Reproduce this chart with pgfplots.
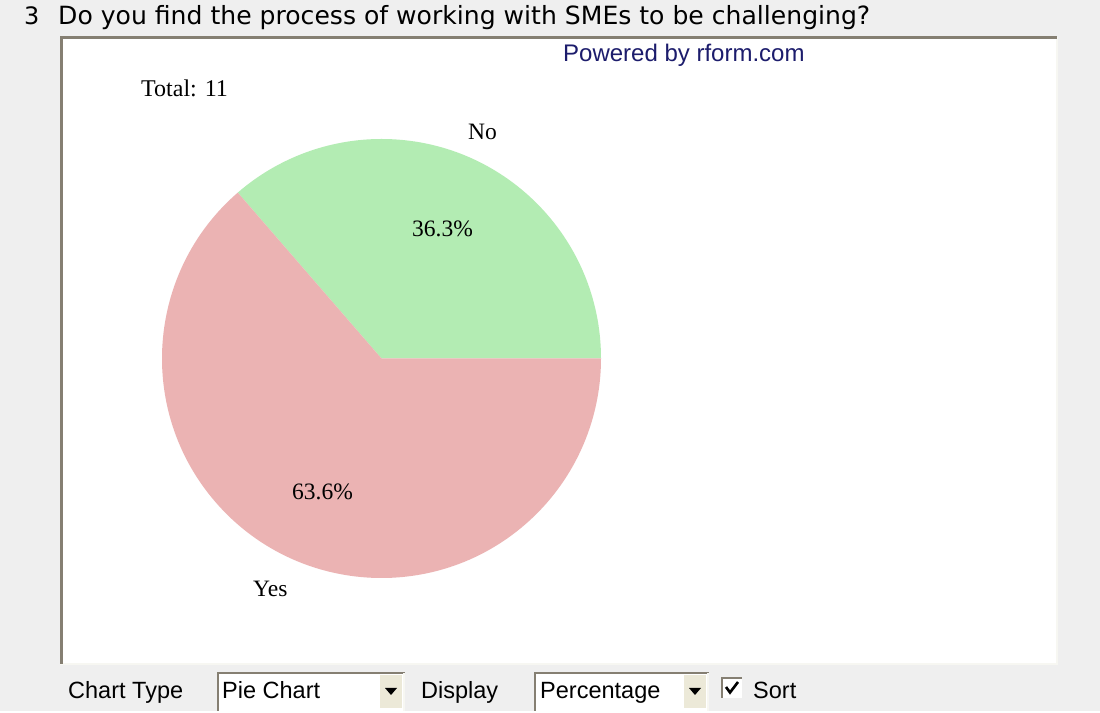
\documentclass[border=0pt]{standalone}
\usepackage{pgfplots}
\pgfplotsset{compat=1.18}
\usepackage{pgfplotstable}
\usepackage{fontspec}
\setmainfont{Liberation Serif}
\newfontfamily\uifont{Liberation Sans}
\newfontfamily\titlefont{DejaVu Sans}

\definecolor{pagebg}{HTML}{EFEFEF}
\definecolor{nogreen}{HTML}{B3ECB3}
\definecolor{yespink}{HTML}{EBB3B3}
\definecolor{navy}{HTML}{1C1C6C}
\definecolor{framedark}{HTML}{857F72}
\definecolor{framelight}{HTML}{F7F7F2}
\definecolor{btnface}{HTML}{ECE9D8}

% answers: count and printed share
\pgfplotstableread{
answer count share
No     4     36.3
Yes    7     63.6
}\answers

\begin{document}
\begin{tikzpicture}
\pgfplotstablegetelem{0}{count}\of\answers \let\vNo\pgfplotsretval
\pgfplotstablegetelem{1}{count}\of\answers \let\vYes\pgfplotsretval
\pgfplotstablegetelem{0}{share}\of\answers \let\sNo\pgfplotsretval
\pgfplotstablegetelem{1}{share}\of\answers \let\sYes\pgfplotsretval
\pgfmathsetmacro{\total}{int(\vNo+\vYes)}
\pgfmathsetmacro{\angNo}{360*\vNo/(\vNo+\vYes)}
\begin{axis}[
  width=1100pt, height=711pt, scale only axis,
  xmin=0, xmax=1100, ymin=0, ymax=711,
  hide axis, clip=false,
]
% page background and chart panel
\fill[pagebg] (axis cs:0,0) rectangle (axis cs:1100,711);
\fill[white] (axis cs:60,47) rectangle (axis cs:1057,674);
\draw[framelight, line width=2pt] (axis cs:60,47) -- (axis cs:1057,47) -- (axis cs:1057,674);
\draw[framedark, line width=3pt] (axis cs:61,47) -- (axis cs:61,673.5) -- (axis cs:1057,673.5);

% title
\node[anchor=base west, inner sep=0pt, font=\titlefont\fontsize{24}{28}\selectfont] at (axis cs:24,686) {3};
\node[anchor=base west, inner sep=0pt, font=\titlefont\fontsize{24}{28}\selectfont] at (axis cs:58,686) {\resizebox{812pt}{!}{Do you find the process of working with SMEs to be challenging?}};

\node[anchor=base west, inner sep=0pt, font=\uifont\fontsize{24}{28}\selectfont, text=navy] at (axis cs:563,649) {Powered by rform.com};

% pie
\fill[nogreen] (axis cs:381.5,352.5) -- (axis cs:601,352.5)
   arc[start angle=0, end angle=\angNo, radius=219.5pt] -- cycle;
\fill[yespink] (axis cs:381.5,352.5) -- ++(\angNo:219.5pt)
   arc[start angle=\angNo, end angle=360, radius=219.5pt] -- cycle;

% labels
\node[anchor=base west, inner sep=0pt, font=\fontsize{24}{27}\selectfont] at (axis cs:141,614) {Total: \total};
\node[anchor=base west, inner sep=0pt, font=\fontsize{23.5}{26}\selectfont] at (axis cs:468,571) {No};
\node[anchor=base west, inner sep=0pt, font=\fontsize{23.5}{26}\selectfont] at (axis cs:412,474) {\sNo\%};
\node[anchor=base west, inner sep=0pt, font=\fontsize{23.5}{26}\selectfont] at (axis cs:292,211) {\sYes\%};
\node[anchor=base west, inner sep=0pt, font=\fontsize{23.5}{26}\selectfont] at (axis cs:253,114) {Yes};

% form controls below the panel
\node[anchor=base west, inner sep=0pt, font=\uifont\fontsize{23.5}{26}\selectfont] at (axis cs:68,12) {Chart Type};
\fill[white] (axis cs:217,0) rectangle (axis cs:405,39);
\fill[btnface] (axis cs:380,3) rectangle (axis cs:402,36);
\fill[black] (axis cs:385,23) -- (axis cs:397,23) -- (axis cs:391,16) -- cycle;
\draw[framedark, line width=2pt] (axis cs:218,0) -- (axis cs:218,38) -- (axis cs:405,38);
\draw[framelight, line width=1.5pt] (axis cs:404,38) -- (axis cs:404,0);
\node[anchor=base west, inner sep=0pt, font=\uifont\fontsize{23.5}{26}\selectfont] at (axis cs:222,12) {Pie Chart};

\node[anchor=base west, inner sep=0pt, font=\uifont\fontsize{23.5}{26}\selectfont] at (axis cs:421,12) {Display};
\fill[white] (axis cs:534,0) rectangle (axis cs:709,39);
\fill[btnface] (axis cs:684,3) rectangle (axis cs:706,36);
\fill[black] (axis cs:689,23) -- (axis cs:701,23) -- (axis cs:695,16) -- cycle;
\draw[framedark, line width=2pt] (axis cs:535,0) -- (axis cs:535,38) -- (axis cs:709,38);
\draw[framelight, line width=1.5pt] (axis cs:708,38) -- (axis cs:708,0);
\node[anchor=base west, inner sep=0pt, font=\uifont\fontsize{23.5}{26}\selectfont] at (axis cs:540,12) {Percentage};

\fill[white] (axis cs:721,13) rectangle (axis cs:742,34);
\draw[framedark, line width=2pt] (axis cs:722,13) -- (axis cs:722,33) -- (axis cs:742,33);
\draw[black, line width=2.6pt] (axis cs:726,24) -- (axis cs:730,18.5) -- (axis cs:738,29);
\node[anchor=base west, inner sep=0pt, font=\uifont\fontsize{23.5}{26}\selectfont] at (axis cs:753,12) {Sort};
\end{axis}
\end{tikzpicture}
\end{document}
